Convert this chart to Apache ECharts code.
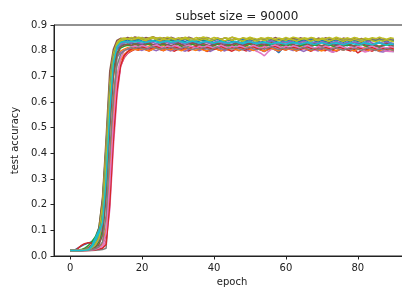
<html>
<head>
  <meta charset="utf-8">
  <title>subset size</title>
  <style>
    html, body { margin: 0; padding: 0; background: #fff; }
  </style>
</head>

<body>
<div id="main" style="width:402px;height:291px;"></div>
<script src="https://cdn.jsdelivr.net/npm/echarts@6/dist/echarts.min.js"></script>
<script>
  // test accuracy per epoch (0..90), one array per run
  var runBlue = [
    0.021,0.021,0.030,0.038,0.045,0.050,0.056,0.070,0.100,0.200,
    0.420,0.660,0.770,0.805,0.818,0.826,0.822,0.830,0.825,0.828,
    0.824,0.831,0.826,0.820,0.827,0.833,0.825,0.822,0.829,0.826,
    0.831,0.824,0.819,0.826,0.832,0.828,0.823,0.830,0.834,0.827,
    0.821,0.826,0.831,0.825,0.818,0.824,0.830,0.827,0.822,0.829,
    0.825,0.832,0.826,0.820,0.827,0.823,0.818,0.805,0.792,0.808,
    0.822,0.828,0.824,0.831,0.826,0.819,0.825,0.830,0.823,0.827,
    0.833,0.826,0.821,0.828,0.824,0.830,0.825,0.819,0.826,0.832,
    0.827,0.823,0.829,0.825,0.820,0.827,0.831,0.826,0.822,0.828,
    0.825
  ];
  var runOrange = [
    0.021,0.021,0.021,0.021,0.022,0.024,0.028,0.035,0.050,0.090,
    0.250,0.500,0.700,0.775,0.798,0.806,0.812,0.810,0.818,0.813,
    0.816,0.811,0.819,0.814,0.808,0.815,0.820,0.812,0.817,0.810,
    0.814,0.819,0.812,0.806,0.815,0.818,0.811,0.816,0.809,0.814,
    0.820,0.813,0.808,0.815,0.812,0.818,0.810,0.806,0.814,0.819,
    0.812,0.816,0.809,0.815,0.820,0.813,0.808,0.814,0.817,0.811,
    0.815,0.809,0.805,0.813,0.818,0.812,0.816,0.810,0.807,0.814,
    0.819,0.812,0.808,0.815,0.811,0.817,0.813,0.806,0.812,0.818,
    0.814,0.809,0.815,0.811,0.805,0.813,0.818,0.812,0.808,0.814,
    0.811
  ];
  var runGreen = [
    0.021,0.021,0.022,0.025,0.030,0.040,0.055,0.075,0.110,0.220,
    0.430,0.680,0.790,0.828,0.842,0.840,0.845,0.838,0.843,0.840,
    0.846,0.839,0.842,0.836,0.844,0.841,0.838,0.845,0.840,0.837,
    0.843,0.839,0.846,0.841,0.836,0.842,0.845,0.839,0.843,0.838,
    0.841,0.846,0.840,0.837,0.843,0.839,0.845,0.841,0.836,0.842,
    0.844,0.838,0.842,0.847,0.840,0.836,0.843,0.839,0.845,0.840,
    0.837,0.843,0.840,0.846,0.841,0.838,0.844,0.839,0.842,0.847,
    0.840,0.836,0.843,0.839,0.845,0.841,0.837,0.842,0.846,0.840,
    0.838,0.844,0.841,0.836,0.843,0.839,0.845,0.840,0.837,0.842,
    0.840
  ];
  var runRed = [
    0.021,0.021,0.028,0.040,0.048,0.052,0.050,0.045,0.040,0.045,
    0.080,0.250,0.480,0.650,0.740,0.772,0.790,0.798,0.805,0.802,
    0.808,0.803,0.799,0.806,0.810,0.804,0.800,0.807,0.803,0.798,
    0.805,0.810,0.803,0.799,0.806,0.802,0.808,0.804,0.797,0.803,
    0.809,0.804,0.800,0.806,0.803,0.798,0.805,0.810,0.804,0.799,
    0.806,0.802,0.808,0.803,0.797,0.804,0.809,0.803,0.800,0.806,
    0.802,0.808,0.804,0.799,0.805,0.810,0.803,0.798,0.804,0.809,
    0.803,0.800,0.806,0.802,0.797,0.804,0.808,0.803,0.799,0.805,
    0.791,0.800,0.807,0.803,0.798,0.805,0.810,0.804,0.800,0.806,
    0.803
  ];
  var runPurple = [
    0.021,0.021,0.021,0.022,0.023,0.025,0.030,0.040,0.060,0.120,
    0.320,0.560,0.720,0.775,0.792,0.800,0.806,0.803,0.809,0.805,
    0.801,0.807,0.811,0.804,0.800,0.806,0.810,0.803,0.799,0.805,
    0.809,0.802,0.798,0.805,0.811,0.804,0.800,0.806,0.802,0.797,
    0.804,0.808,0.803,0.799,0.806,0.810,0.804,0.800,0.807,0.803,
    0.798,0.805,0.809,0.802,0.797,0.804,0.808,0.803,0.799,0.806,
    0.811,0.805,0.800,0.806,0.802,0.797,0.804,0.809,0.803,0.799,
    0.806,0.810,0.803,0.794,0.800,0.806,0.802,0.808,0.804,0.799,
    0.805,0.809,0.803,0.799,0.806,0.802,0.797,0.795,0.800,0.798,
    0.796
  ];
  var runBrown = [
    0.021,0.021,0.021,0.023,0.026,0.032,0.045,0.065,0.110,0.230,
    0.460,0.720,0.805,0.840,0.848,0.846,0.851,0.847,0.853,0.849,
    0.845,0.851,0.848,0.854,0.849,0.845,0.850,0.846,0.852,0.848,
    0.844,0.850,0.847,0.852,0.848,0.843,0.849,0.846,0.851,0.847,
    0.843,0.849,0.845,0.850,0.846,0.852,0.847,0.843,0.849,0.845,
    0.850,0.846,0.842,0.848,0.844,0.849,0.845,0.851,0.846,0.842,
    0.848,0.844,0.849,0.845,0.850,0.846,0.842,0.847,0.843,0.849,
    0.845,0.850,0.846,0.842,0.848,0.844,0.849,0.845,0.841,0.847,
    0.843,0.848,0.844,0.840,0.846,0.842,0.847,0.843,0.839,0.845,
    0.842
  ];
  var runPink = [
    0.021,0.021,0.021,0.021,0.021,0.022,0.023,0.025,0.028,0.032,
    0.060,0.180,0.420,0.620,0.735,0.775,0.792,0.802,0.810,0.808,
    0.813,0.809,0.806,0.812,0.816,0.810,0.807,0.813,0.809,0.815,
    0.811,0.806,0.812,0.817,0.810,0.805,0.811,0.815,0.809,0.806,
    0.812,0.816,0.810,0.807,0.813,0.809,0.815,0.811,0.806,0.812,
    0.808,0.803,0.797,0.790,0.780,0.795,0.806,0.812,0.808,0.814,
    0.810,0.806,0.812,0.816,0.809,0.805,0.811,0.807,0.801,0.808,
    0.812,0.806,0.799,0.794,0.800,0.807,0.812,0.808,0.804,0.810,
    0.806,0.800,0.795,0.799,0.805,0.810,0.806,0.801,0.798,0.797,
    0.799
  ];
  var runGray = [
    0.021,0.021,0.021,0.021,0.021,0.021,0.021,0.022,0.023,0.025,
    0.030,0.300,0.600,0.770,0.820,0.838,0.844,0.848,0.843,0.847,
    0.851,0.846,0.842,0.848,0.845,0.850,0.846,0.843,0.849,0.845,
    0.841,0.847,0.844,0.849,0.845,0.842,0.848,0.844,0.850,0.846,
    0.842,0.847,0.843,0.849,0.845,0.841,0.847,0.843,0.848,0.844,
    0.840,0.846,0.842,0.848,0.844,0.849,0.845,0.841,0.847,0.843,
    0.848,0.844,0.840,0.846,0.842,0.847,0.843,0.849,0.845,0.841,
    0.847,0.843,0.848,0.844,0.840,0.846,0.842,0.847,0.843,0.839,
    0.845,0.841,0.846,0.842,0.847,0.843,0.839,0.845,0.841,0.846,
    0.843
  ];
  var runOlive = [
    0.021,0.021,0.021,0.022,0.024,0.028,0.036,0.050,0.090,0.200,
    0.420,0.670,0.790,0.830,0.845,0.849,0.846,0.851,0.848,0.852,
    0.849,0.845,0.850,0.853,0.848,0.851,0.847,0.852,0.849,0.845,
    0.850,0.847,0.852,0.848,0.845,0.851,0.848,0.853,0.849,0.846,
    0.851,0.848,0.844,0.850,0.847,0.852,0.849,0.845,0.850,0.847,
    0.852,0.848,0.845,0.850,0.847,0.851,0.848,0.844,0.849,0.846,
    0.851,0.847,0.852,0.849,0.845,0.850,0.847,0.851,0.848,0.844,
    0.849,0.846,0.851,0.847,0.852,0.848,0.845,0.850,0.846,0.851,
    0.848,0.844,0.849,0.846,0.850,0.847,0.852,0.848,0.845,0.850,
    0.847
  ];
  var runCyan = [
    0.021,0.021,0.021,0.021,0.022,0.025,0.040,0.070,0.100,0.140,
    0.280,0.540,0.740,0.810,0.830,0.835,0.830,0.834,0.838,0.833,
    0.836,0.832,0.829,0.835,0.838,0.833,0.830,0.836,0.832,0.828,
    0.834,0.838,0.833,0.829,0.835,0.839,0.834,0.830,0.836,0.832,
    0.828,0.834,0.837,0.832,0.829,0.835,0.831,0.827,0.833,0.837,
    0.832,0.828,0.834,0.830,0.826,0.832,0.836,0.831,0.825,0.833,
    0.837,0.832,0.828,0.834,0.830,0.826,0.832,0.836,0.831,0.827,
    0.833,0.829,0.825,0.831,0.835,0.830,0.826,0.832,0.828,0.834,
    0.830,0.826,0.832,0.828,0.824,0.830,0.834,0.829,0.825,0.831,
    0.827
  ];
  var runBlue2 = [
    0.021,0.021,0.021,0.022,0.024,0.027,0.033,0.045,0.075,0.160,
    0.380,0.640,0.775,0.820,0.834,0.838,0.842,0.836,0.840,0.844,
    0.838,0.834,0.841,0.837,0.843,0.839,0.835,0.840,0.844,0.838,
    0.834,0.840,0.836,0.842,0.838,0.833,0.839,0.843,0.837,0.834,
    0.840,0.844,0.838,0.835,0.841,0.837,0.832,0.838,0.843,0.839,
    0.835,0.841,0.837,0.833,0.839,0.844,0.838,0.834,0.840,0.836,
    0.842,0.838,0.833,0.839,0.835,0.841,0.837,0.843,0.838,0.834,
    0.840,0.836,0.832,0.838,0.843,0.837,0.833,0.839,0.835,0.841,
    0.837,0.833,0.839,0.835,0.840,0.836,0.842,0.838,0.834,0.840,
    0.836
  ];
  var runOrange2 = [
    0.021,0.021,0.021,0.021,0.021,0.022,0.024,0.028,0.034,0.045,
    0.110,0.320,0.560,0.700,0.760,0.785,0.796,0.801,0.806,0.803,
    0.808,0.804,0.799,0.806,0.811,0.805,0.801,0.807,0.803,0.809,
    0.804,0.800,0.806,0.811,0.805,0.801,0.808,0.803,0.799,0.806,
    0.810,0.804,0.800,0.807,0.803,0.809,0.805,0.800,0.806,0.811,
    0.805,0.801,0.807,0.803,0.798,0.805,0.810,0.804,0.800,0.806,
    0.803,0.809,0.804,0.800,0.806,0.811,0.805,0.801,0.807,0.803,
    0.799,0.805,0.810,0.804,0.800,0.806,0.802,0.808,0.804,0.799,
    0.806,0.810,0.805,0.801,0.807,0.803,0.799,0.805,0.809,0.804,
    0.801
  ];
  var runGreen2 = [
    0.021,0.021,0.021,0.021,0.022,0.024,0.029,0.038,0.055,0.100,
    0.280,0.540,0.720,0.790,0.810,0.817,0.821,0.818,0.824,0.820,
    0.816,0.822,0.826,0.819,0.815,0.821,0.825,0.818,0.814,0.820,
    0.824,0.817,0.813,0.819,0.825,0.820,0.816,0.822,0.818,0.814,
    0.820,0.826,0.819,0.815,0.821,0.817,0.823,0.819,0.814,0.820,
    0.825,0.818,0.814,0.820,0.816,0.822,0.826,0.819,0.815,0.821,
    0.817,0.823,0.819,0.813,0.819,0.825,0.820,0.816,0.822,0.818,
    0.814,0.820,0.824,0.818,0.815,0.821,0.817,0.823,0.819,0.814,
    0.820,0.825,0.819,0.815,0.821,0.817,0.812,0.818,0.824,0.819,
    0.816
  ];
  var runRed2 = [
    0.021,0.021,0.021,0.021,0.021,0.021,0.022,0.024,0.027,0.030,
    0.045,0.200,0.450,0.640,0.740,0.780,0.797,0.806,0.811,0.808,
    0.814,0.810,0.806,0.812,0.817,0.811,0.807,0.813,0.809,0.815,
    0.811,0.806,0.812,0.808,0.814,0.818,0.812,0.807,0.813,0.809,
    0.805,0.811,0.816,0.810,0.806,0.812,0.808,0.814,0.810,0.805,
    0.811,0.815,0.809,0.805,0.811,0.807,0.813,0.817,0.811,0.806,
    0.812,0.808,0.814,0.810,0.805,0.811,0.815,0.809,0.805,0.811,
    0.807,0.813,0.809,0.804,0.810,0.814,0.808,0.804,0.810,0.806,
    0.812,0.808,0.803,0.809,0.813,0.807,0.803,0.809,0.805,0.811,
    0.807
  ];
  var runPurple2 = [
    0.021,0.021,0.021,0.022,0.023,0.026,0.031,0.042,0.065,0.130,
    0.340,0.600,0.760,0.812,0.826,0.831,0.835,0.830,0.836,0.832,
    0.828,0.834,0.838,0.832,0.827,0.833,0.837,0.831,0.827,0.833,
    0.836,0.830,0.826,0.832,0.837,0.833,0.829,0.835,0.831,0.827,
    0.833,0.838,0.832,0.828,0.834,0.830,0.836,0.832,0.826,0.832,
    0.837,0.831,0.827,0.833,0.829,0.835,0.839,0.833,0.828,0.834,
    0.830,0.836,0.832,0.826,0.832,0.837,0.831,0.827,0.833,0.829,
    0.835,0.831,0.826,0.832,0.836,0.830,0.826,0.832,0.828,0.834,
    0.830,0.825,0.831,0.836,0.830,0.826,0.832,0.828,0.834,0.830,
    0.826
  ];
  var runBrown2 = [
    0.021,0.021,0.021,0.021,0.022,0.023,0.026,0.032,0.045,0.080,
    0.230,0.500,0.700,0.790,0.815,0.822,0.826,0.821,0.828,0.824,
    0.820,0.826,0.830,0.824,0.819,0.825,0.829,0.823,0.818,0.824,
    0.829,0.823,0.819,0.825,0.830,0.826,0.821,0.827,0.823,0.818,
    0.824,0.830,0.825,0.820,0.826,0.822,0.828,0.824,0.819,0.825,
    0.830,0.824,0.820,0.826,0.821,0.827,0.831,0.825,0.820,0.826,
    0.822,0.828,0.824,0.818,0.824,0.830,0.825,0.821,0.827,0.823,
    0.819,0.825,0.829,0.823,0.819,0.825,0.821,0.827,0.823,0.818,
    0.824,0.829,0.823,0.819,0.825,0.821,0.816,0.822,0.828,0.823,
    0.820
  ];
  var runPink2 = [
    0.021,0.021,0.021,0.021,0.021,0.022,0.023,0.026,0.031,0.040,
    0.090,0.280,0.520,0.690,0.770,0.798,0.808,0.814,0.818,0.815,
    0.820,0.816,0.812,0.818,0.822,0.816,0.812,0.818,0.814,0.820,
    0.816,0.811,0.817,0.821,0.815,0.811,0.817,0.813,0.819,0.815,
    0.810,0.816,0.821,0.815,0.811,0.817,0.813,0.819,0.815,0.810,
    0.816,0.820,0.814,0.810,0.816,0.812,0.818,0.822,0.816,0.811,
    0.817,0.813,0.819,0.815,0.810,0.816,0.820,0.814,0.810,0.816,
    0.812,0.818,0.814,0.809,0.815,0.819,0.813,0.809,0.815,0.811,
    0.817,0.813,0.808,0.814,0.818,0.812,0.808,0.814,0.810,0.816,
    0.812
  ];
  var runGray2 = [
    0.021,0.021,0.021,0.021,0.021,0.022,0.024,0.028,0.036,0.055,
    0.160,0.400,0.620,0.740,0.785,0.800,0.807,0.811,0.808,0.813,
    0.809,0.805,0.811,0.815,0.809,0.805,0.811,0.807,0.813,0.809,
    0.804,0.810,0.814,0.808,0.804,0.810,0.806,0.812,0.808,0.803,
    0.809,0.814,0.808,0.804,0.810,0.806,0.812,0.808,0.803,0.809,
    0.813,0.807,0.803,0.809,0.805,0.811,0.815,0.809,0.804,0.810,
    0.806,0.812,0.808,0.803,0.809,0.813,0.807,0.803,0.809,0.805,
    0.811,0.807,0.802,0.808,0.812,0.806,0.802,0.808,0.804,0.810,
    0.806,0.801,0.807,0.811,0.805,0.801,0.807,0.803,0.809,0.805,
    0.801
  ];
  var runOlive2 = [
    0.021,0.021,0.021,0.022,0.023,0.026,0.032,0.044,0.070,0.150,
    0.360,0.620,0.770,0.822,0.838,0.842,0.846,0.841,0.845,0.848,
    0.843,0.839,0.845,0.849,0.843,0.839,0.845,0.841,0.847,0.843,
    0.838,0.844,0.848,0.842,0.838,0.844,0.840,0.846,0.842,0.837,
    0.843,0.848,0.842,0.838,0.844,0.840,0.846,0.842,0.837,0.843,
    0.847,0.841,0.837,0.843,0.839,0.845,0.849,0.843,0.838,0.844,
    0.840,0.846,0.842,0.837,0.843,0.847,0.841,0.837,0.843,0.839,
    0.845,0.841,0.836,0.842,0.846,0.840,0.836,0.842,0.838,0.844,
    0.840,0.835,0.841,0.845,0.839,0.835,0.841,0.837,0.843,0.839,
    0.835
  ];
  var runCyan2 = [
    0.021,0.021,0.021,0.021,0.022,0.024,0.035,0.060,0.090,0.130,
    0.300,0.560,0.750,0.815,0.832,0.836,0.833,0.837,0.834,0.838,
    0.835,0.832,0.836,0.839,0.834,0.831,0.835,0.838,0.833,0.836,
    0.839,0.834,0.831,0.835,0.838,0.834,0.830,0.834,0.837,0.833,
    0.830,0.834,0.837,0.832,0.829,0.833,0.836,0.831,0.828,0.832,
    0.835,0.830,0.827,0.831,0.834,0.829,0.826,0.830,0.833,0.828,
    0.825,0.829,0.832,0.828,0.825,0.829,0.832,0.827,0.824,0.828,
    0.831,0.827,0.824,0.828,0.831,0.826,0.823,0.827,0.830,0.826,
    0.823,0.827,0.830,0.826,0.823,0.827,0.830,0.825,0.822,0.826,
    0.824
  ];

  var runs = [runBlue, runOrange, runGreen, runRed, runPurple,
              runBrown, runPink, runGray, runOlive, runCyan,
              runBlue2, runOrange2, runGreen2, runRed2, runPurple2,
              runBrown2, runPink2, runGray2, runOlive2, runCyan2];
  var colors = ['#1f77b4', '#ff7f0e', '#2ca02c', '#d62728', '#9467bd',
                '#8c564b', '#e377c2', '#7f7f7f', '#bcbd22', '#17becf'];
  var xTicks = [0, 20, 40, 60, 80];

  var font = 'DejaVu Sans';
  var series = runs.map(function (run, k) {
    var c = colors[k % colors.length];
    return {
      type: 'line',
      data: run.map(function (v, i) { return [i, v]; }),
      showSymbol: false,
      lineStyle: { color: c, width: 1.5 },
      itemStyle: { color: c }
    };
  });

  var myChart = echarts.init(document.getElementById('main'));
  myChart.setOption({
    animation: false,
    title: {
      text: 'subset size = 90000',
      left: 232,
      textAlign: 'center',
      top: 6,
      textStyle: { fontFamily: font, fontSize: 12, fontWeight: 'normal', color: '#222' }
    },
    grid: {
      left: 54, top: 25, bottom: 35, right: -8,
      outerBoundsMode: 'none',
      containLabel: false,
      show: true, borderColor: '#222', borderWidth: 1
    },
    xAxis: {
      type: 'value',
      min: -4.5, max: 94.5,
      name: 'epoch',
      nameLocation: 'middle',
      nameGap: 21,
      nameTextStyle: { fontFamily: font, fontSize: 10, color: '#222' },
      axisLine: { show: true, onZero: false, lineStyle: { color: '#222', width: 1 } },
      axisTick: { show: true, length: 3.5, customValues: xTicks, lineStyle: { color: '#222' } },
      axisLabel: {
        customValues: xTicks, margin: 7,
        fontFamily: font, fontSize: 10, color: '#222'
      },
      splitLine: { show: false }
    },
    yAxis: {
      type: 'value',
      min: 0, max: 0.9, interval: 0.1,
      name: 'test accuracy',
      nameLocation: 'middle',
      nameGap: 30,
      nameTextStyle: { fontFamily: font, fontSize: 10, color: '#222' },
      axisLine: { show: true, onZero: false, lineStyle: { color: '#222', width: 1 } },
      axisTick: { show: true, length: 3.5, lineStyle: { color: '#222' } },
      axisLabel: {
        margin: 7, fontFamily: font, fontSize: 10, color: '#222',
        formatter: function (v) { return v.toFixed(1); }
      },
      splitLine: { show: false }
    },
    series: series
  });
</script>

</body>
</html>
